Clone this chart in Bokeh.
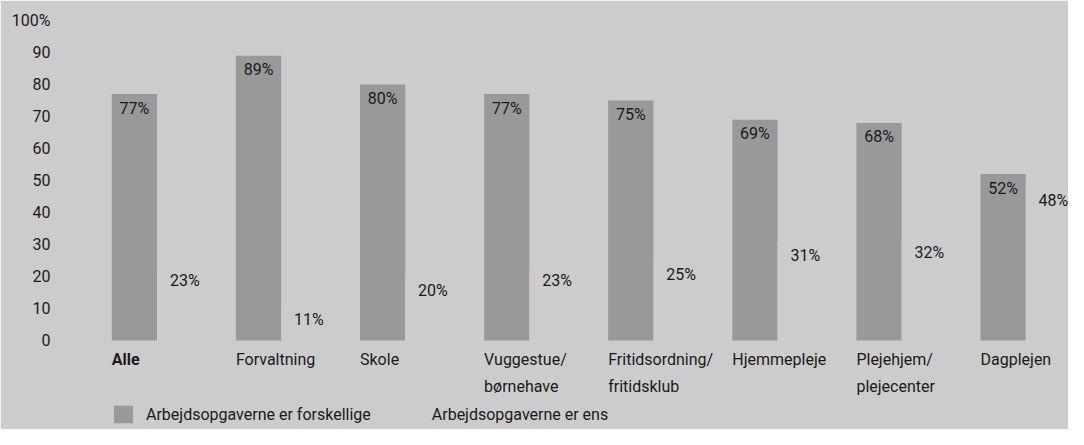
from bokeh.plotting import figure
from bokeh.models import (ColumnDataSource, Range1d, FixedTicker, LabelSet,
                          Legend, LegendItem)
from bokeh.core.properties import value
from bokeh.embed import file_html
from bokeh.resources import INLINE

# ---- data ----
categories = ["Alle", "Forvaltning", "Skole", "Vuggestue/\nbørnehave",
              "Fritidsordning/\nfritidsklub", "Hjemmepleje",
              "Plejehjem/\nplejecenter", "Dagplejen"]
forskellige = [77, 89, 80, 77, 75, 69, 68, 52]
ens = [23, 11, 20, 23, 25, 31, 32, 48]
series_names = ["Arbejdsopgaverne er forskellige", "Arbejdsopgaverne er ens"]
y_ticks = [0, 10, 20, 30, 40, 50, 60, 70, 80, 90, 100]
y_tick_labels = ["0", "10", "20", "30", "40", "50", "60", "70", "80", "90", "100%"]

# ---- layout constants ----
BG = "#cccccc"
BAR = "#999999"
TXT = "#1a1a1a"
FONT = "Roboto"
FS = "16px"
W, H = 1068, 429
LEFT, TOP = 95, 20
ZERO_Y = 340                      # pixel row of value 0 (from figure top)
PX = (ZERO_Y - TOP) / 100.0       # pixels per y unit
FRAME_W = W - LEFT
FRAME_H = H - TOP
CAT_PX, BAR_PX = 124.1, 45.3
FIRST_BAR_LEFT = 111.3
center0 = FIRST_BAR_LEFT + BAR_PX
bw = BAR_PX / CAT_PX
x0 = (LEFT - center0) / CAT_PX
x1 = x0 + FRAME_W / CAT_PX
y0 = 100 - FRAME_H / PX

idx = list(range(len(categories)))
src = ColumnDataSource(dict(
    x1=[i - bw / 2 for i in idx],
    x2=[i + bw / 2 for i in idx],
    xl=[i - bw for i in idx],
    v1=forskellige,
    v2=ens,
    t1=[f"{v}%" for v in forskellige],
    t2=[f"{v}%" for v in ens],
    y1=[v - 14 / PX for v in forskellige],
    y2=[v - 14 / PX for v in ens],
    cat=categories,
    cy=[-9.0 / PX for _ in idx],
    style=["bold" if i == 0 else "normal" for i in idx],
))

p = figure(width=W, height=H, x_range=Range1d(x0, x1), y_range=Range1d(y0, 100),
           output_backend="svg", toolbar_location=None, x_axis_location=None,
           min_border_left=LEFT, min_border_right=0, min_border_top=TOP,
           min_border_bottom=0)
p.background_fill_color = BG
p.border_fill_color = BG
p.outline_line_color = BG
p.outline_line_width = 2
p.grid.visible = False

r1 = p.vbar(x="x1", width=bw, bottom=0, top="v1", source=src,
            fill_color=BAR, line_color=None)
r2 = p.vbar(x="x2", width=bw, bottom=0, top="v2", source=src,
            fill_color=BG, line_color=None)

ax = p.yaxis[0]
ax.ticker = FixedTicker(ticks=y_ticks)
ax.major_label_overrides = {t: l for t, l in zip(y_ticks, y_tick_labels)}
ax.axis_line_color = None
ax.major_tick_line_color = None
ax.minor_tick_line_color = None
ax.major_tick_out = 0
ax.major_tick_in = 0
ax.major_label_standoff = 45
ax.major_label_text_font = FONT
ax.major_label_text_font_size = FS
ax.major_label_text_color = TXT

lab_kw = dict(source=src, text_font=value(FONT), text_font_size=value(FS),
              text_color=TXT, text_align="center", text_baseline="middle")
p.add_layout(LabelSet(x="x1", y="y1", text="t1", **lab_kw))
p.add_layout(LabelSet(x="x2", y="y2", text="t2", x_offset=5, **lab_kw))

p.add_layout(LabelSet(x="xl", y="cy", text="cat", source=src,
                      text_font=value(FONT), text_font_size=value(FS),
                      text_color=TXT, text_align="left",
                      text_baseline="top", text_line_height=1.45,
                      text_font_style="style"))

legend = Legend(items=[LegendItem(label=series_names[0], renderers=[r1]),
                       LegendItem(label=series_names[1], renderers=[r2])],
                orientation="horizontal", location=(16, 4),
                glyph_width=24, glyph_height=22, label_standoff=11, spacing=26,
                padding=0, margin=0, border_line_color=None,
                background_fill_alpha=0, label_text_font=FONT,
                label_text_font_size=FS, label_text_color=TXT)
p.add_layout(legend)

html = file_html(p, INLINE)
html = html.replace("<body>", '<body style="background-color:#cccccc;">', 1)
open("out.html", "w").write(html)
